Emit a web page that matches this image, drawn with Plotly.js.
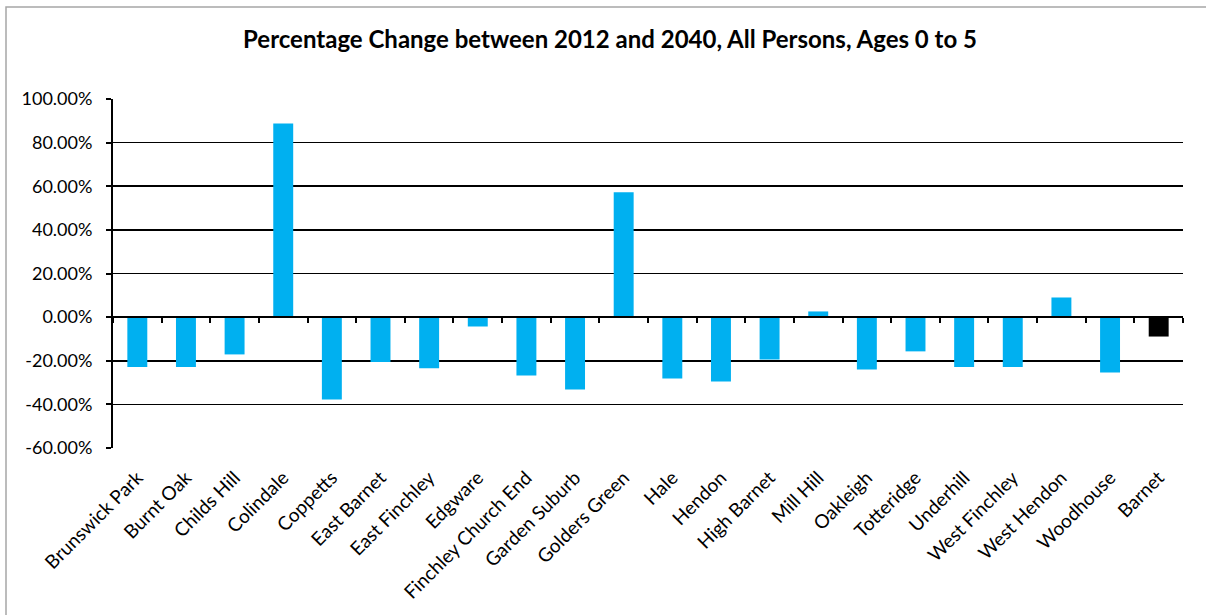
<!DOCTYPE html>
<html>
<head>
<meta charset="utf-8">
<script src="https://cdn.plot.ly/plotly-3.0.1.min.js"></script>
<style>html,body{margin:0;padding:0;background:#fff;}#chart{width:1206px;height:615px;}</style>
</head>
<body>
<div id="chart"></div>
<script>
const wards = ["Brunswick Park","Burnt Oak","Childs Hill","Colindale","Coppetts","East Barnet","East Finchley","Edgware","Finchley Church End","Garden Suburb","Golders Green","Hale","Hendon","High Barnet","Mill Hill","Oakleigh","Totteridge","Underhill","West Finchley","West Hendon","Woodhouse","Barnet"];
const pctChange = [-22.9,-22.9,-17.1,88.8,-37.8,-20.6,-23.4,-4.3,-26.8,-33.2,57.2,-28.1,-29.5,-19.4,2.6,-24.0,-15.7,-22.9,-22.9,9.0,-25.4,-8.9];
const barColors = wards.map(w => w === "Barnet" ? "#000000" : "#00B0F0");
const yTicks = [-60,-40,-20,0,20,40,60,80,100];

const font = "Lato, 'Open Sans', sans-serif";
const L = 113, R = 1183, T = 99, B = 448;
const W = 1206, H = 615;
const pw = R - L, ph = B - T;

const traces = [
  {type:"bar", x:wards, y:pctChange, marker:{color:barColors, line:{width:0}}, width:0.41, xaxis:"x", yaxis:"y", hoverinfo:"x+y"},
  {type:"bar", x:wards, y:wards.map(()=>null), xaxis:"x2", yaxis:"y", showlegend:false, hoverinfo:"skip"}
];

const layout = {
  width:W, height:H,
  margin:{l:L, r:W-R, t:T, b:H-B, pad:0},
  paper_bgcolor:"#ffffff", plot_bgcolor:"#ffffff",
  showlegend:false,
  font:{family:font, color:"#000", size:18},
  title:{text:"<b>Percentage Change between 2012 and 2040, All Persons, Ages 0 to 5</b>", x:(610)/W, xanchor:"center", y:1-40/H, yanchor:"middle", font:{family:font, size:24, color:"#000"}},
  xaxis:{type:"category", categoryorder:"array", categoryarray:wards, showgrid:false, zeroline:false, showline:false, ticks:"", tickangle:-45, ticklabelstandoff:14, tickfont:{family:font, size:19, color:"#000"}, fixedrange:true},
  xaxis2:{type:"category", categoryorder:"array", categoryarray:wards, overlaying:"x", anchor:"free", position:60/160, side:"bottom", showgrid:false, zeroline:false, showline:true, linecolor:"#000", linewidth:2, ticks:"outside", tickson:"boundaries", ticklen:5, tickwidth:2, tickcolor:"#000", showticklabels:false, fixedrange:true},
  yaxis:{range:[-60,100], tickvals:yTicks, ticktext:yTicks.map(v=>v.toFixed(2)+"%"), showgrid:true, gridcolor:"#000", gridwidth:1.6, zeroline:false, showline:true, linecolor:"#000", linewidth:2, ticks:"outside", ticklen:5, tickwidth:2, tickcolor:"#000", ticklabelstandoff:10, tickfont:{family:font, size:18, color:"#000"}, fixedrange:true},
  bargap:0.59,
  shapes:[
    {type:"rect", xref:"paper", yref:"paper", x0:(6-L)/pw, x1:(1212-L)/pw, y0:(B-620)/ph, y1:(B-7)/ph, line:{color:"#a6a6a6", width:1.5}, fillcolor:"rgba(0,0,0,0)", layer:"below"}
  ]
};

Plotly.newPlot("chart", traces, layout, {displayModeBar:false, staticPlot:true});
</script>
</body>
</html>
